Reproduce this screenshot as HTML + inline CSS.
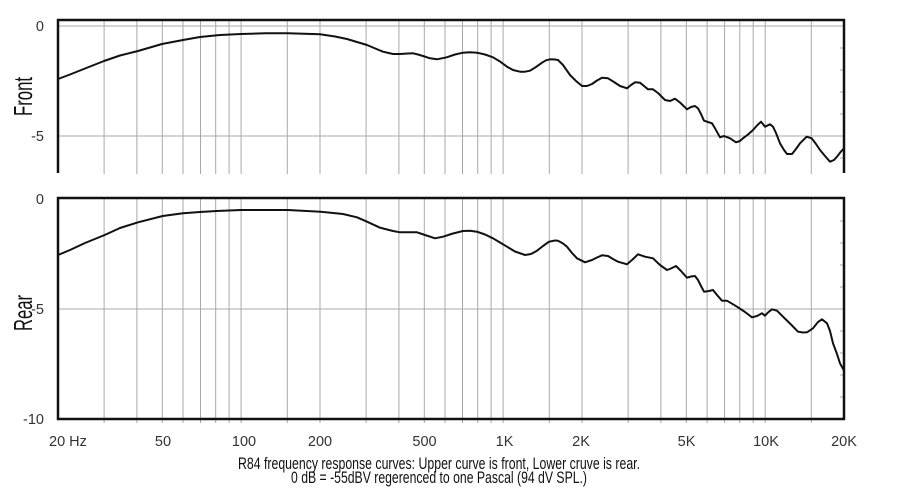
<!DOCTYPE html>
<html>
<head>
<meta charset="utf-8">
<style>
html,body{margin:0;padding:0;background:#fff;}
svg{display:block;}
</style>
</head>
<body>
<svg width="900" height="497" viewBox="0 0 900 497" xmlns="http://www.w3.org/2000/svg">
<rect width="900" height="497" fill="#fff"/>
<g stroke="#a8a8a8" stroke-width="1" fill="none">
<path d="M104.1 20V174M136.9 20V174M162.3 20V174M183 20V174M200.5 20V174M215.7 20V174M229.1 20V174M241.1 20V174M287.3 20V174M320 20V174M366.1 20V174M398.9 20V174M424.3 20V174M445 20V174M462.5 20V174M477.7 20V174M491.1 20V174M503.1 20V174M549.3 20V174M582 20V174M628.1 20V174M660.9 20V174M686.3 20V174M707.1 20V174M724.6 20V174M739.8 20V174M753.2 20V174M765.2 20V174M811.3 20V174"/>
<path d="M104.1 198V423M136.9 198V423M162.3 198V423M183 198V423M200.5 198V423M215.7 198V423M229.1 198V423M241.1 198V423M287.3 198V423M320 198V423M366.1 198V423M398.9 198V423M424.3 198V423M445 198V423M462.5 198V423M477.7 198V423M491.1 198V423M503.1 198V423M549.3 198V423M582 198V423M628.1 198V423M660.9 198V423M686.3 198V423M707.1 198V423M724.6 198V423M739.8 198V423M753.2 198V423M765.2 198V423M811.3 198V423"/>
<path d="M58 26H844M58 136H844M58 309H844"/>
<path d="M840 48H844M840 70H844M840 92H844M840 114H844M840 158H844M840 221H844M840 243H844M840 265H844M840 287H844M840 331H844M840 353H844M840 375H844M840 397H844"/>
</g>
<g stroke="#111" fill="none">
<path d="M58 19V173M844 19V173" stroke-width="2.5"/>
<path d="M57 20H845" stroke-width="2.5"/>
<path d="M58 197V420M844 197V420" stroke-width="2.5"/>
<path d="M57 198H845M57 419H845" stroke-width="2.5"/>
</g>
<g stroke="#111" stroke-width="2" fill="none" stroke-linejoin="round" stroke-linecap="round">
<polyline points="58,79 70,74.5 85,68.5 104,61 120,55.5 138,51 162,44 183,40 200,37 220,35 241,34 265,33.3 288,33.3 320,34.3 335,36.5 347,39 357,42 367,45 383,51.7 393,54 400,54 408,53.5 413,53.3 418,54.5 423,56 430,58.3 437,59.3 446.7,57.3 455,54.5 463,52.7 470,52.3 477,52.7 485,54.5 493,57.3 500,61.5 507,66.7 513,70 520,71.7 525,71.7 530,70.7 536,67 542,62.7 546,60.3 550,59.3 555,59.5 558,60 563,65 570,75 576,81 582,86 587,86 592,84 597,80.5 602,77.7 608,78.3 614,82 620,86 627,88.3 631,85 635,82.3 640,82.7 644,86 648,89.3 653,89.3 658,93 665,100 670,101 675,98.7 680,102.5 687,109.3 691,107 695,106 698,108.3 701,114 704,120.7 708,122 712,123.3 715,128.3 720,137.3 724,136 730,138.3 736,142.3 740,141 743,138.3 748,134.5 753,130 757,125.5 761,121.7 765,126.7 770,124.3 773,126.7 776,133 780,143.3 784,150 787,154 792,154 796,149 800,143.3 806.7,136.7 811.7,138.3 816,144 820,150 825,156 830,161.7 834,160 837,156.7 841,151.5 844,148.3"/>
<polyline points="58,255 70,250 85,243 104.7,235 120,228 138,222.3 162.7,216 183,213.3 200,212 216.7,211 241,210 288,210 320.7,211.7 343,214 357,217.3 367,221.7 380,227.7 393,231 400,232.3 417,232.3 425,235 435,238.3 443,236.7 453,233.5 463,231 470,230.8 477,231.7 485,234.5 493,238.3 500,242.5 507,246.7 515,251.5 525,255 531,254 537,250.7 543,246 549,241.7 555,240.5 558,240.7 563,243.5 567,246.7 572,253 577,258.3 585,262.3 592,260 597,257.5 602,255.3 608,256 613,259 618,261.7 627,264.3 632,260 638,254.3 645,256.7 653,258.3 660,265 667,270 671,268.5 676,266 681,271 687,277.7 691,276.5 695,276 698,280 701,286 704,291.7 709,291 713,290 717,295 722,300.7 727,300.7 737,306.7 745,312 752,317.3 757,316 762,313.3 765,315.7 768,312.5 772,309.3 777,310.7 783,316.7 791,324.5 798,331.7 803,332.5 807,332.3 813,328.3 818,322 822,319.3 827,323.3 830,331 833,343.3 837,354 840,363.3 844,370.7"/>
</g>
<g font-family="Liberation Sans, sans-serif" font-size="14.5" fill="#333" text-anchor="end">
<text x="44" y="31">0</text>
<text x="44" y="141">-5</text>
<text x="44" y="204">0</text>
<text x="44" y="314">-5</text>
<text x="44" y="424">-10</text>
</g>
<g font-family="Liberation Sans, sans-serif" font-size="14.5" fill="#333" text-anchor="middle">
<text x="49" y="446" text-anchor="start">20 Hz</text>
<text x="163" y="446">50</text>
<text x="244" y="446">100</text>
<text x="320" y="446">200</text>
<text x="424.5" y="446">500</text>
<text x="504.5" y="446">1K</text>
<text x="581" y="446">2K</text>
<text x="686.5" y="446">5K</text>
<text x="766" y="446">10K</text>
<text x="844" y="446">20K</text>
</g>
<g font-family="Liberation Sans, sans-serif" font-size="26" fill="#111">
<text transform="translate(32,116) rotate(-90)" textLength="39" lengthAdjust="spacingAndGlyphs">Front</text>
<text transform="translate(32,331) rotate(-90)" textLength="36" lengthAdjust="spacingAndGlyphs">Rear</text>
</g>
<g font-family="Liberation Sans, sans-serif" font-size="16.5" fill="#111">
<text x="238" y="469" textLength="402" lengthAdjust="spacingAndGlyphs">R84 frequency response curves: Upper curve is front, Lower cruve is rear.</text>
<text x="291" y="483" textLength="296" lengthAdjust="spacingAndGlyphs">0 dB = -55dBV regerenced to one Pascal (94 dV SPL.)</text>
</g>
</svg>
</body>
</html>
